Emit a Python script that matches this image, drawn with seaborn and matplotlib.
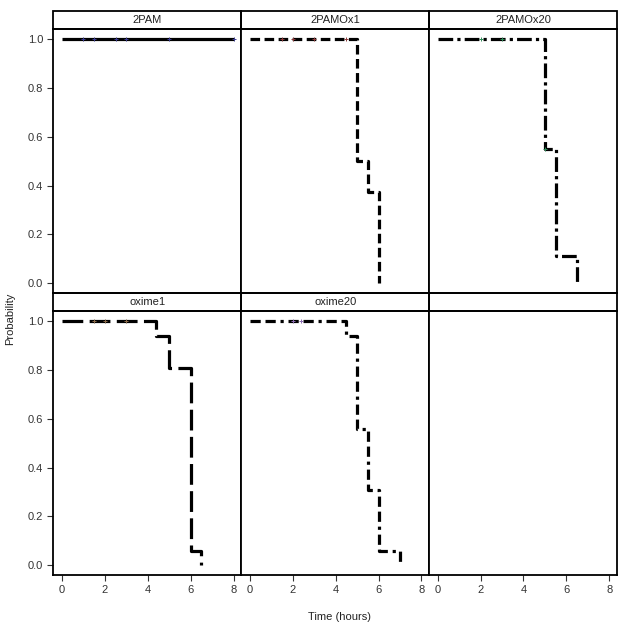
import numpy as np
import pandas as pd
import seaborn as sns
import matplotlib.pyplot as plt
from matplotlib.patches import Rectangle

groups = ['2PAM', '2PAMOx1', '2PAMOx20', 'oxime1', 'oxime20']

# step curves (time of event, survival probability after it)
t_2pam = [0, 8]
s_2pam = [1.0, 1.0]
t_ox1 = [0, 5, 5.5, 6]
s_ox1 = [1.0, 0.5, 0.375, 0.0]
t_ox20 = [0, 5, 5.5, 6.5]
s_ox20 = [1.0, 0.55, 0.11, 0.0]
t_oxime1 = [0, 4.4, 5, 6, 6.5]
s_oxime1 = [1.0, 0.94, 0.81, 0.06, 0.0]
t_oxime20 = [0, 4.5, 5, 5.5, 6, 7]
s_oxime20 = [1.0, 0.94, 0.56, 0.31, 0.06, 0.0]

# censored observations
c_2pam = [1, 1.5, 2.5, 3, 5, 8]
cs_2pam = [1, 1, 1, 1, 1, 1]
c_ox1 = [1.5, 2, 3, 4.5]
cs_ox1 = [1, 1, 1, 1]
c_ox20 = [2, 3, 5]
cs_ox20 = [1, 1, 0.55]
c_oxime1 = [1.5, 2, 3]
cs_oxime1 = [1, 1, 1]
c_oxime20 = [2, 2.4]
cs_oxime20 = [1, 1]

curves = {
    '2PAM': (t_2pam, s_2pam, c_2pam, cs_2pam),
    '2PAMOx1': (t_ox1, s_ox1, c_ox1, cs_ox1),
    '2PAMOx20': (t_ox20, s_ox20, c_ox20, cs_ox20),
    'oxime1': (t_oxime1, s_oxime1, c_oxime1, cs_oxime1),
    'oxime20': (t_oxime20, s_oxime20, c_oxime20, cs_oxime20),
}
styles = {
    '2PAM': '-',
    '2PAMOx1': (0, (3, 1.4)),
    '2PAMOx20': (0, (4.6, 1.3, 1, 1.3)),
    'oxime1': (0, (6.5, 2)),
    'oxime20': (0, (3.2, 1.5, 3.2, 1.5, 1, 1.5)),
}
mark_colors = {
    '2PAM': '#3b3b8f',
    '2PAMOx1': '#8b3a3a',
    '2PAMOx20': '#2e8b57',
    'oxime1': '#8b6b4a',
    'oxime20': '#8a6bb0',
}

sns.set_style('white')
plt.rcParams['font.family'] = ['Liberation Sans', 'DejaVu Sans']

fig, axes = plt.subplots(2, 3, figsize=(6.29, 6.37), dpi=100, sharex=True, sharey=True)
fig.subplots_adjust(left=0.085, right=0.981, top=0.955, bottom=0.0973, wspace=0, hspace=0.068)

for ax, g in zip(axes.flat, groups):
    t, s, ct, cs = curves[g]
    df = pd.DataFrame({'time': t, 'prob': s})
    sns.lineplot(data=df, x='time', y='prob', ax=ax, estimator=None, drawstyle='steps-post',
                 color='black', linewidth=2.3, linestyle=styles[g],
                 solid_capstyle='butt', dash_capstyle='butt')
    cdf = pd.DataFrame({'time': ct, 'prob': cs})
    sns.scatterplot(data=cdf, x='time', y='prob', ax=ax, marker='+', s=12,
                    color=mark_colors[g], linewidth=0.7, zorder=5)
    ax.text(0.5, 1.033, g, transform=ax.transAxes, ha='center', va='center', fontsize=8,
            color='#222222')

# header strips (empty one for the unused cell)
for ax in axes.flat:
    ax.add_patch(Rectangle((0, 1), 1, 0.066, transform=ax.transAxes, clip_on=False,
                           facecolor='none', edgecolor='black', linewidth=1.3))

for ax in axes.flat:
    ax.set_xlim(-0.39, 8.36)
    ax.set_ylim(-0.04, 1.043)
    ax.set_xticks([0, 2, 4, 6, 8])
    ax.set_yticks([0, 0.2, 0.4, 0.6, 0.8, 1.0])
    ax.set_yticklabels(['0.0', '0.2', '0.4', '0.6', '0.8', '1.0'])
    ax.set_xlabel('')
    ax.set_ylabel('')
    for sp in ax.spines.values():
        sp.set_color('black')
        sp.set_linewidth(1.3)
    ax.tick_params(direction='out', length=4, width=0.8, labelsize=8, color='#333333',
                   labelcolor='#333333', left=False, bottom=False)

for ax in axes[:, 0]:
    ax.tick_params(left=True)
for ax in axes[1, :]:
    ax.tick_params(bottom=True, labelbottom=True)

fig.text(0.54, 0.031, 'Time (hours)', ha='center', va='center', fontsize=8, color='#222222')
fig.text(0.016, 0.5, 'Probability', ha='center', va='center', rotation=90, fontsize=8, color='#222222')

fig.savefig('out.png', dpi=100)
